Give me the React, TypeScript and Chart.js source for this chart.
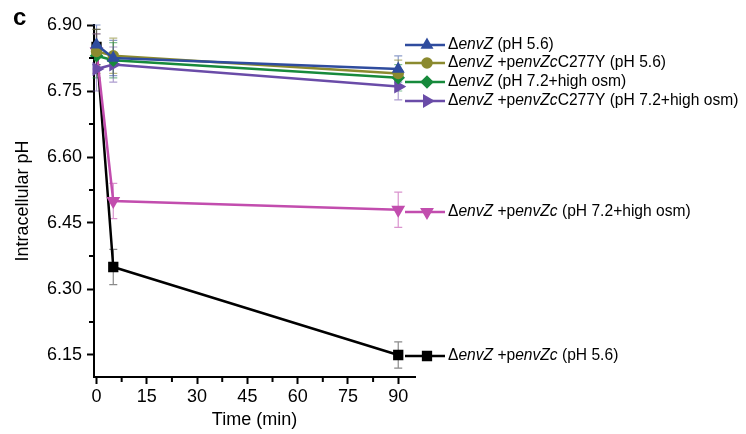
import React, { useEffect, useRef } from 'react';
import { Chart, registerables } from 'chart.js';
import { drawPoint } from 'chart.js/helpers';

Chart.register(...registerables);

// ---- data ----
const times = [0, 5, 90];
const xMajorTicks = [0, 15, 30, 45, 60, 75, 90];
const xMinorTicks = [7.5, 22.5, 37.5, 52.5, 67.5, 82.5];
const yMajorTicks = [6.15, 6.3, 6.45, 6.6, 6.75, 6.9];
const yMinorTicks = [6.225, 6.375, 6.525, 6.675, 6.825];

const seriesLabels = [
  'Δ*envZ* (pH 5.6)',
  'Δ*envZ* +p*envZc*C277Y (pH 5.6)',
  'Δ*envZ* (pH 7.2+high osm)',
  'Δ*envZ* +p*envZc*C277Y (pH 7.2+high osm)',
  'Δ*envZ* +p*envZc* (pH 7.2+high osm)',
  'Δ*envZ* +p*envZc* (pH 5.6)',
];
const envZ56 = [6.855, 6.825, 6.8];
const envZ56Err = [0.045, 0.04, 0.03];
const c277y56 = [6.84, 6.83, 6.79];
const c277y56Err = [0.05, 0.04, 0.03];
const envZ72 = [6.83, 6.82, 6.78];
const envZ72Err = [0.05, 0.04, 0.03];
const c277y72 = [6.8, 6.81, 6.76];
const c277y72Err = [0.05, 0.04, 0.03];
const envZc72 = [6.84, 6.5, 6.48];
const envZc72Err = [0.04, 0.04, 0.04];
const envZc56 = [6.85, 6.35, 6.15];
const envZc56Err = [0.04, 0.04, 0.03];

const FONT = '"Liberation Sans", Arial, Helvetica, sans-serif';

// style
const colors = ['#2f4c9e', '#8b8a2f', '#178a3c', '#6a4ca8', '#c24dae', '#000000'];
const errColors = [
  'rgba(47,76,158,0.55)',
  'rgba(139,138,47,0.6)',
  'rgba(23,138,60,0.55)',
  'rgba(106,76,168,0.55)',
  'rgba(194,77,174,0.6)',
  'rgba(60,60,60,0.6)',
];
const pointStyles = ['triangle', 'circle', 'rectRot', 'triangle', 'triangle', 'rect'];
const rotations = [0, 0, 0, 90, 180, 0];
const radii = [5, 4.5, 5, 5.5, 5.5, 5.5];
const legendYs = [45, 63, 82, 101, 212, 356];

const values = [envZ56, c277y56, envZ72, c277y72, envZc72, envZc56];
const errors = [envZ56Err, c277y56Err, envZ72Err, c277y72Err, envZc72Err, envZc56Err];

const errorBarPlugin = {
  id: 'errorBars',
  beforeDatasetsDraw(chart: any) {
    const ctx = chart.ctx;
    const xs = chart.scales.x;
    const ys = chart.scales.y;
    chart.data.datasets.forEach((ds: any, i: number) => {
      const errs = errors[i];
      ctx.save();
      ctx.strokeStyle = errColors[i];
      ctx.lineWidth = 1.2;
      ds.data.forEach((pt: any, j: number) => {
        const x = xs.getPixelForValue(pt.x);
        const y1 = ys.getPixelForValue(pt.y - errs[j]);
        const y2 = ys.getPixelForValue(pt.y + errs[j]);
        ctx.beginPath();
        ctx.moveTo(x, y1);
        ctx.lineTo(x, y2);
        ctx.moveTo(x - 4, y1);
        ctx.lineTo(x + 4, y1);
        ctx.moveTo(x - 4, y2);
        ctx.lineTo(x + 4, y2);
        ctx.stroke();
      });
      ctx.restore();
    });
  },
};

const minorTickPlugin = {
  id: 'minorTicks',
  afterDraw(chart: any) {
    const ctx = chart.ctx;
    const xs = chart.scales.x;
    const ys = chart.scales.y;
    const { left, bottom } = chart.chartArea;
    ctx.save();
    ctx.strokeStyle = '#000';
    ctx.lineWidth = 2;
    ctx.beginPath();
    xMinorTicks.forEach((v) => {
      const x = xs.getPixelForValue(v);
      ctx.moveTo(x, bottom);
      ctx.lineTo(x, bottom + 5);
    });
    yMinorTicks.forEach((v) => {
      const y = ys.getPixelForValue(v);
      ctx.moveTo(left, y);
      ctx.lineTo(left - 5, y);
    });
    ctx.stroke();
    // panel letter
    ctx.fillStyle = '#000';
    ctx.font = `bold 24px ${FONT}`;
    ctx.textBaseline = 'alphabetic';
    ctx.textAlign = 'left';
    ctx.fillText('c', 13, 25);
    ctx.restore();
  },
};

const sideLegendPlugin = {
  id: 'sideLegend',
  afterDraw(chart: any) {
    const ctx = chart.ctx;
    chart.data.datasets.forEach((ds: any, i: number) => {
      const y = legendYs[i];
      ctx.save();
      ctx.strokeStyle = colors[i];
      ctx.fillStyle = colors[i];
      ctx.lineWidth = 2.5;
      ctx.beginPath();
      ctx.moveTo(405, y);
      ctx.lineTo(445, y);
      ctx.stroke();
      drawPoint(
        ctx,
        { pointStyle: pointStyles[i], rotation: rotations[i], radius: radii[i], borderWidth: 1 } as any,
        427,
        y
      );
      ctx.fillStyle = '#000';
      ctx.textBaseline = 'middle';
      ctx.textAlign = 'left';
      let x = 448;
      const parts = (ds.label as string).split('*');
      parts.forEach((p, k) => {
        ctx.font = `${k % 2 === 1 ? 'italic ' : ''}15.6px ${FONT}`;
        ctx.fillText(p, x, y);
        x += ctx.measureText(p).width;
      });
      ctx.restore();
    });
  },
};

export default function App() {
  const ref = useRef<HTMLCanvasElement | null>(null);
  useEffect(() => {
    if (!ref.current) return;
    const datasets = values.map((vals, i) => ({
      label: seriesLabels[i],
      data: times.map((t, j) => ({ x: t, y: vals[j] })),
      borderColor: colors[i],
      backgroundColor: colors[i],
      pointBackgroundColor: colors[i],
      pointBorderColor: colors[i],
      pointStyle: pointStyles[i],
      rotation: rotations[i],
      pointRadius: radii[i],
      borderWidth: 2.5,
      tension: 0,
      clip: false as any,
    }));
    const chart = new Chart(ref.current, {
      type: 'line',
      data: { datasets },
      plugins: [errorBarPlugin, minorTickPlugin, sideLegendPlugin],
      options: {
        animation: false,
        responsive: true,
        maintainAspectRatio: false,
        layout: { padding: { top: 25, right: 331, bottom: 0, left: 0 } },
        plugins: { legend: { display: false }, tooltip: { enabled: false } },
        scales: {
          x: {
            type: 'linear',
            min: -0.75,
            max: 95,
            afterBuildTicks: (s: any) => {
              s.ticks = xMajorTicks.map((value) => ({ value }));
            },
            afterFit: (s: any) => {
              s.height = 57;
            },
            ticks: {
              color: '#000',
              font: { family: FONT, size: 18 },
              padding: 2,
              maxRotation: 0,
              autoSkip: false,
              callback: (v: any) => String(v),
            },
            grid: { drawOnChartArea: false, tickLength: 7, tickColor: '#000', tickWidth: 2 },
            border: { display: true, color: '#000', width: 2 },
            title: {
              display: true,
              text: 'Time (min)',
              color: '#000',
              font: { family: FONT, size: 18 },
              padding: { top: 4, bottom: 3 },
            },
          },
          y: {
            type: 'linear',
            min: 6.1,
            max: 6.9,
            afterBuildTicks: (s: any) => {
              s.ticks = yMajorTicks.map((value) => ({ value }));
            },
            afterFit: (s: any) => {
              s.width = 94;
            },
            ticks: {
              color: '#000',
              font: { family: FONT, size: 18 },
              padding: 5,
              autoSkip: false,
              callback: (v: any) => Number(v).toFixed(2),
            },
            grid: { drawOnChartArea: false, tickLength: 7, tickColor: '#000', tickWidth: 2 },
            border: { display: true, color: '#000', width: 2 },
            title: {
              display: true,
              text: 'Intracellular pH',
              color: '#000',
              font: { family: FONT, size: 18 },
              padding: { top: 12, bottom: 4 },
            },
          },
        },
      },
    });
    return () => chart.destroy();
  }, []);
  return (
    <div style={{ position: 'fixed', left: 0, top: 0, width: 746, height: 434, background: '#fff' }}>
      <canvas ref={ref} />
    </div>
  );
}
